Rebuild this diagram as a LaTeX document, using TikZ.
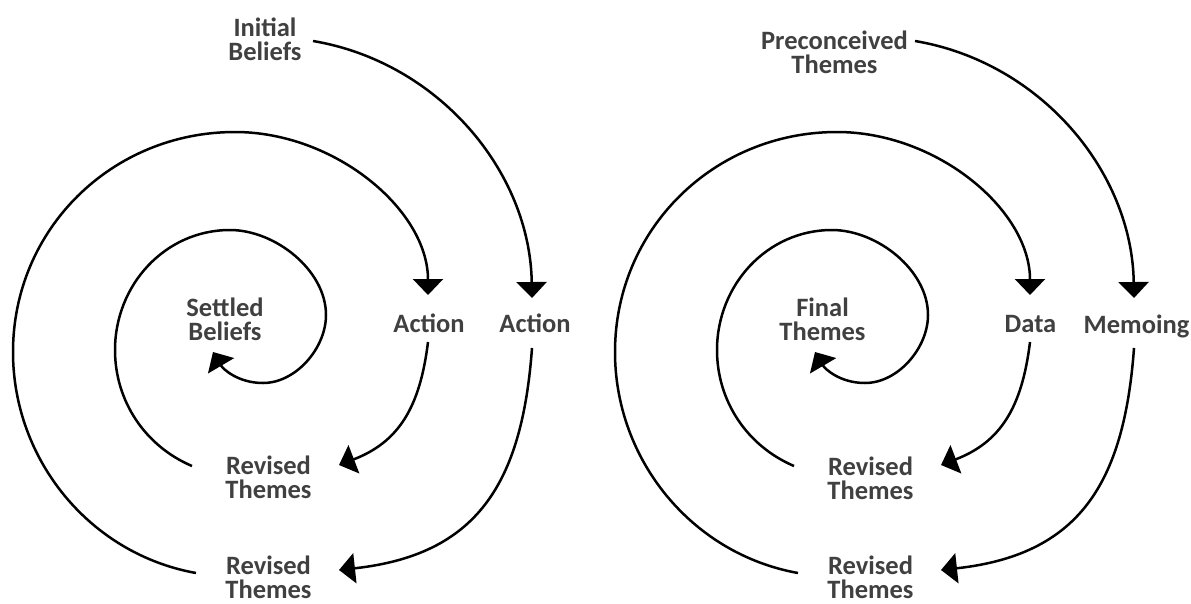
\documentclass[tikz,border=0pt]{standalone}
\usepackage{fontspec}
\setmainfont{Carlito}
\usepackage{tikz}
\usetikzlibrary{calc,positioning,arrows.meta}
\definecolor{txtgray}{RGB}{64,64,64}

\begin{document}
\begin{tikzpicture}[x=1pt,y=-1pt,
		theme/.style={font=\bfseries\fontsize{26.5}{24}\selectfont,text=txtgray,align=center,inner sep=0pt},
		flow/.style={line width=2.5pt,-{Triangle[width=30pt,length=16pt]}}]
	\useasboundingbox (0,0) rectangle (1191,603);
	% left spiral
	\node(init) at (265,39) [theme] {Initial\\Beliefs};
	\node(settled) at (225,319) [theme] {Settled\\Beliefs};
	\node(act1) at (429,323.5) [theme] {Action};
	\node(act2) at (535,323.5) [theme] {Action};
	\node(rev1) at (268.5,477.5) [theme] {Revised\\Themes};
	\node(rev2) at (268.5,577) [theme] {Revised\\Themes};
	\draw[flow] ($(init)+(48,2)$) .. controls +(125,21) and +(-2,-127) .. ($(act2)+(-3,-25.5)$);
	\draw[flow] ($(act2)+(-3,24.5)$) .. controls +(-10,137) and +(137,-15) .. ($(rev2)+(70.5,-7)$);
	\draw[flow] ($(rev2)+(-72.5,-4)$) .. controls +(-106,-19) and +(0,108) .. (13,352)
		.. controls +(0,-123) and +(-123,0) .. (235,132)
		.. controls +(100,0) and +(0,-85) .. ($(act1)+(-1,-28.5)$);
	\draw[flow] ($(act1)+(-1,18.5)$) .. controls +(-8,65) and +(60,-23) .. ($(rev1)+(70.5,-12.5)$);
	\draw[flow] ($(rev1)+(-76.5,-11.5)$) .. controls +(-47,-20) and +(0,51) .. (115,350)
		.. controls +(0,-65) and +(-65,0) .. (230,230)
		.. controls +(45,0) and +(0,-45) .. (326,315)
		.. controls +(0,33) and +(33,0) .. (263,383)
		.. controls +(-25,0) and +(10,17) .. ($(settled)+(-12,33)$);
	% right spiral
	\begin{scope}[xshift=602pt]
		\node(pre) at (232.5,52.5) [theme] {Preconceived\\Themes};
		\node(final) at (220.5,319) [theme] {Final\\Themes};
		\node(data) at (428.5,323.5) [theme] {Data};
		\node(memo) at (534.5,326) [theme] {Memoing};
		\node(rev3) at (268.5,478.5) [theme] {Revised\\Themes};
		\node(rev4) at (268.5,577) [theme] {Revised\\Themes};
		\draw[flow] ($(pre)+(80.5,-11.5)$) .. controls +(125,21) and +(-2,-127) .. ($(memo)+(-2.5,-28)$);
		\draw[flow] ($(memo)+(-2.5,22)$) .. controls +(-10,137) and +(137,-15) .. ($(rev4)+(70.5,-7)$);
		\draw[flow] ($(rev4)+(-72.5,-4)$) .. controls +(-106,-19) and +(0,108) .. (13,352)
			.. controls +(0,-123) and +(-123,0) .. (235,132)
			.. controls +(100,0) and +(0,-85) .. ($(data)+(-0.5,-28.5)$);
		\draw[flow] ($(data)+(-0.5,18.5)$) .. controls +(-8,65) and +(60,-23) .. ($(rev3)+(70.5,-13.5)$);
		\draw[flow] ($(rev3)+(-76.5,-12.5)$) .. controls +(-47,-20) and +(0,51) .. (115,350)
			.. controls +(0,-65) and +(-65,0) .. (230,230)
			.. controls +(45,0) and +(0,-45) .. (326,315)
			.. controls +(0,33) and +(33,0) .. (263,383)
			.. controls +(-25,0) and +(10,17) .. ($(final)+(-7.5,33)$);
	\end{scope}
\end{tikzpicture}
\end{document}
